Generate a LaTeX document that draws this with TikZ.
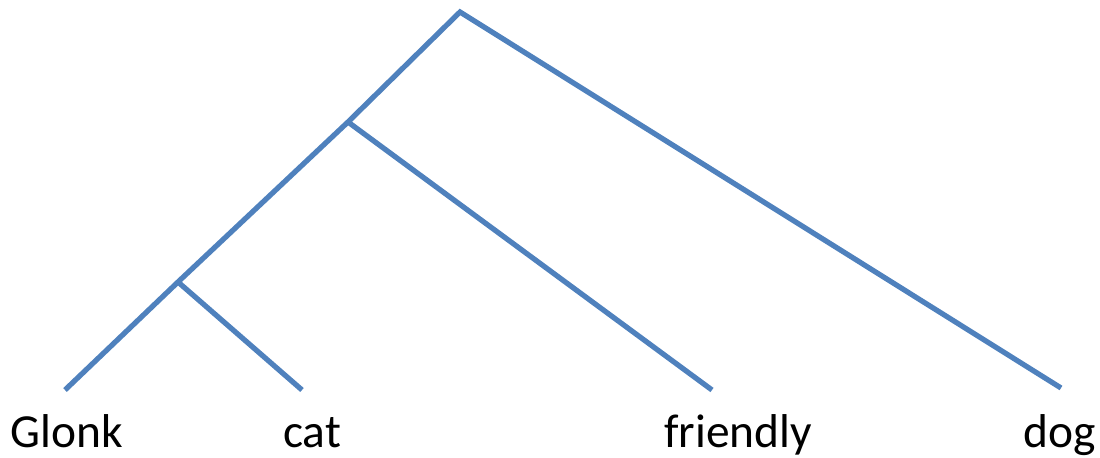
\documentclass[tikz,border=0pt]{standalone}
\usepackage{fontspec}
\setmainfont{Carlito}
\usetikzlibrary{positioning}
\definecolor{branchblue}{RGB}{79,129,189}
\tikzset{
  branch/.style = {draw=branchblue,line width=3pt,line cap=butt},
  word/.style   = {anchor=base,inner sep=0pt,font=\fontsize{27}{31}\selectfont},
}
\begin{document}
\begin{tikzpicture}
  \useasboundingbox (0,0) rectangle (22,9.16);
  % tree points
  \coordinate (root) at (9.2,8.92);
  \coordinate (np)   at (6.96,6.72);
  \coordinate (adj)  at (3.56,3.52);
  \coordinate (lglonk)    at (1.30,1.36);
  \coordinate (lcat)      at (6.04,1.36);
  \coordinate (lfriendly) at (14.24,1.36);
  \coordinate (ldog)      at (21.22,1.40);
  % words
  \node[word] (glonk)    at (1.34,0.2)  {Glonk};
  \node[word] (cat)      at (6.24,0.2)  {cat};
  \node[word] (friendly) at (14.76,0.2) {friendly};
  \node[word] (dog)      at (21.2,0.2)  {dog};
  % branches
  \draw[branch] (lglonk) -- (adj) -- (np) -- (root) -- (ldog);
  \draw[branch] (adj) -- (lcat);
  \draw[branch] (np) -- (lfriendly);
\end{tikzpicture}
\end{document}
